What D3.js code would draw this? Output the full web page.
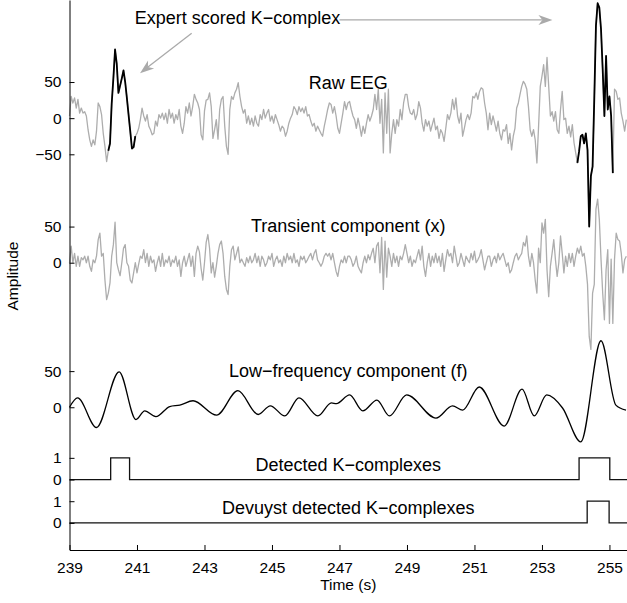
<!DOCTYPE html>
<html><head><meta charset="utf-8">
<script src="https://cdn.jsdelivr.net/npm/d3@7"></script>
<style>
body{margin:0;background:#fff}
svg{display:block}
text{font-family:"Liberation Sans",Arial,Helvetica,sans-serif;fill:#000}
</style>
</head><body><svg id="c" width="627" height="603"></svg>
<script>
// ---------- data ----------
const t0 = 239, dt = 0.05;               // sampling grid (s)
const rawEEG = [
3,30,21,28,14,26,7,14,7,9,
3,-16,-30,-39,-30,-37,-18,21,16,5,
-21,-39,-60,-45,-35,20,55,95,75,35,
45,55,66,50,28,5,-18,-42,-40,-25,
-21,-14,-2,14,3,-4,5,-11,-16,-23,
-21,-4,-11,5,0,7,-2,7,-7,12,
0,7,-7,5,-2,12,-11,-21,-7,16,
7,21,3,16,33,26,21,12,-23,-30,
10,25,26,35,16,-28,-16,-2,-29,12,
26,30,-11,-39,-50,12,30,26,35,40,
49,30,16,7,12,-7,3,-9,0,-11,
3,-7,-11,5,-2,12,0,7,12,-4,
3,-7,5,-2,-9,-18,-11,-14,-25,-18,
-7,0,5,16,12,5,16,9,14,7,
16,3,5,-4,-11,-7,-18,-11,-16,-21,
-25,-11,0,12,21,19,7,16,3,-14,
-21,-7,7,23,12,21,23,12,3,-2,
-14,0,-11,-25,-11,-21,-7,5,-4,3,
12,33,12,40,-7,26,-48,35,-21,40,
-48,-21,-2,-21,-2,-11,12,-2,21,33,
33,16,7,5,12,-2,5,23,14,-7,
-18,-2,-11,-4,-18,-9,0,-16,-11,-28,
-16,-21,-32,-14,5,-2,7,26,12,28,
3,-7,7,-25,-14,-2,5,-2,7,30,
28,35,26,37,42,40,21,7,-16,7,
-9,3,-7,-18,-4,-21,-30,-16,-18,-9,
-35,-21,-44,-25,-14,14,21,33,44,51,
47,40,16,-16,-25,-16,-30,-62,-11,44,
58,74,44,84,44,3,9,-4,9,-16,
-21,12,37,-2,0,-21,-11,-26,-9,-34,
-48,-62,-46,-25,-23,-35,-21,-44,-150,-80,
-67,26,128,159,153,123,67,3,86,12,
30,3,-76,40,37,26,28,7,-4,-18,
-2];
const transientX = [
0,23,0,13,-5,9,-5,7,4,9,
0,9,-5,-12,4,0,9,32,41,9,
13,-24,-51,-42,-28,9,25,56,0,-10,
-18,0,20,25,0,-5,-24,-28,-14,0,
-14,-2,9,6,18,0,13,-5,9,0,
4,-12,0,9,-5,13,-5,4,0,9,
-5,4,0,9,-5,4,-19,0,9,-5,
4,13,-5,9,-19,13,23,15,-8,-24,
0,28,39,20,-14,0,-20,-5,13,25,
30,13,-19,-37,-44,-5,18,23,4,13,
22,0,5,0,-5,7,0,9,0,4,
13,0,9,-5,9,4,-5,0,9,4,
13,-5,4,9,0,4,-5,9,0,13,
4,9,0,13,0,4,-5,9,4,9,
0,4,9,13,4,13,18,4,0,-5,
0,9,13,9,13,4,13,0,-12,-19,
-5,4,0,9,0,9,9,4,-5,0,
9,-5,-10,-14,0,9,0,11,4,13,
20,0,23,28,-14,35,-37,30,-20,20,
9,-5,13,0,9,-5,9,4,13,25,
13,0,9,-5,4,0,9,18,4,23,
-5,-19,0,13,-5,9,0,13,0,9,
-5,13,-12,4,18,9,13,0,23,9,
-5,0,13,4,-5,9,4,0,13,4,
16,0,4,9,18,4,-10,0,9,9,
-5,4,9,0,13,4,9,13,4,-5,
0,-14,-10,0,9,13,4,9,13,28,
23,37,9,-5,13,0,-24,-42,20,0,
55,41,60,-10,-47,-5,13,32,4,-19,
0,37,13,-14,9,-5,13,0,13,-5,
9,20,13,23,9,13,-5,-30,-102,-120,
-42,-30,74,88,60,5,-42,-79,-10,18,
-84,5,-84,5,41,32,30,13,-14,4,
9];
const lfTime  = [239.00,239.24,239.80,240.47,240.97,241.23,241.56,241.97,242.27,242.66,243.36,243.99,244.59,244.95,245.38,245.80,246.36,246.76,246.91,247.30,247.69,248.11,248.48,248.99,249.86,250.35,250.65,251.14,251.88,252.41,252.77,253.14,253.61,254.15,254.75,255.19,255.49];
const lfValue = [0,13,-28,49,-17,-5,-13,1,3,9,-11,23,-10,2,-12,13,-12,6,5,17,-5,10,-12,17,-15,2,-4,28,-26,25,-12,17,-1,-48,92,3,-4];
const expertStart = [240.12, 254.03], expertEnd = [240.96, 255.12];
const detectedOn  = [240.22, 254.10], detectedOff = [240.78, 255.01];
const devuystOn   = [254.34],         devuystOff  = [254.99];
const rowOffset = {raw: 400, transient: 200, lf: 0, detected: -100, devuyst: -160};
const pulseHeight = 30;
const xTicks = [239,241,243,245,247,249,251,253,255];
const yTickValues = [450,400,350,250,200,50,0,-70,-100,-130,-160];
const yTickLabels = ["50","0","\u221250","50","0","50","0","1","0","1","0"];
const labels = ["Raw EEG","Transient component (x)","Low\u2212frequency component (f)","Detected K\u2212complexes","Devuyst detected K\u2212complexes"];
const labelY = [89, 232, 377, 471, 514];

// ---------- drawing ----------
const svg = d3.select("#c");
const x = d3.scaleLinear().domain([239, 255.52]).range([69.5, 627]);
const y = d3.scaleLinear().domain([-197.5, 563.5]).range([550, 0]);
const mid = (x.range()[0] + x.range()[1]) / 2;

const sig = (arr, off) => arr.map((v, i) => [t0 + i * dt, v + off]);
const line = d3.line().x(d => x(d[0])).y(d => y(d[1]));

const rawPts = sig(rawEEG, rowOffset.raw);
const trPts = sig(transientX, rowOffset.transient);

svg.append("path").attr("d", line(trPts)).attr("fill","none").attr("stroke","#adadad").attr("stroke-width",1.3).attr("stroke-linejoin","round");
svg.append("path").attr("d", line(rawPts)).attr("fill","none").attr("stroke","#adadad").attr("stroke-width",1.3).attr("stroke-linejoin","round");
expertStart.forEach((s, k) => {
  const seg = rawPts.filter(p => p[0] >= s - 1e-9 && p[0] <= expertEnd[k] + 1e-9);
  svg.append("path").attr("d", line(seg)).attr("fill","none").attr("stroke","#000").attr("stroke-width",1.8).attr("stroke-linejoin","round");
});

const lfPts = lfTime.map((t, i) => [t, lfValue[i] + rowOffset.lf]);
svg.append("path").attr("d", d3.line().x(d => x(d[0])).y(d => y(d[1])).curve(d3.curveMonotoneX)(lfPts))
  .attr("fill","none").attr("stroke","#000").attr("stroke-width",1.3);

function pulses(on, off, base) {
  const pts = [[x.domain()[0], base]];
  on.forEach((a, k) => { pts.push([a, base], [a, base + pulseHeight], [off[k], base + pulseHeight], [off[k], base]); });
  pts.push([x.domain()[1], base]);
  return pts;
}
[[detectedOn, detectedOff, rowOffset.detected],[devuystOn, devuystOff, rowOffset.devuyst]].forEach(([a,b,o]) => {
  svg.append("path").attr("d", line(pulses(a,b,o))).attr("fill","none").attr("stroke","#111").attr("stroke-width",1.3);
});

// axes
const xAxis = d3.axisBottom(x).tickValues(xTicks).tickSize(-5).tickSizeOuter(0).tickPadding(12).tickFormat(d3.format("d"));
const gx = svg.append("g").attr("transform","translate(0,550)").call(xAxis);
const yAxis = d3.axisLeft(y).tickValues(yTickValues).tickSize(-5).tickSizeOuter(0).tickPadding(8).tickFormat((d,i) => yTickLabels[i]);
const gy = svg.append("g").attr("transform","translate(69.5,0)").call(yAxis);
[gx, gy].forEach(g => {
  g.selectAll("text").attr("font-size", 15.5).attr("font-family", '"Liberation Sans",Arial,sans-serif').attr("fill","#000");
  g.selectAll("line,path").attr("stroke","#000").attr("stroke-width",1);
});
svg.append("text").attr("x", mid).attr("y", 590).attr("text-anchor","middle").attr("font-size",15.5).text("Time (s)");
svg.append("text").attr("transform","translate(18,276) rotate(-90)").attr("text-anchor","middle").attr("font-size",15.5).text("Amplitude");

// row labels
labels.forEach((s, i) => svg.append("text").attr("x", mid).attr("y", labelY[i]).attr("text-anchor","middle").attr("font-size",18).text(s));

// annotation
svg.append("text").attr("x", 237.5).attr("y", 24).attr("text-anchor","middle").attr("font-size",18).text("Expert scored K\u2212complex");
function arrow(t1, v1, t2, v2) {
  const x1 = x(t1), y1 = y(v1), x2 = x(t2), y2 = y(v2);
  const ang = Math.atan2(y2 - y1, x2 - x1), L = 14, W = 5, N = 10;
  const ca = Math.cos(ang), sa = Math.sin(ang);
  const bx = x2 - L * ca, by = y2 - L * sa;
  const nx = x2 - N * ca, ny = y2 - N * sa;
  svg.append("line").attr("x1", x1).attr("y1", y1).attr("x2", nx).attr("y2", ny).attr("stroke","#aaa").attr("stroke-width",1.3);
  svg.append("polygon").attr("points", [[x2,y2],[bx - W*sa, by + W*ca],[nx,ny],[bx + W*sa, by - W*ca]].map(p=>p.join(",")).join(" ")).attr("fill","#aaa");
}
arrow(242.62, 517.6, 241.09, 462.3);
arrow(247.0, 536, 253.31, 536);
</script></body></html>
